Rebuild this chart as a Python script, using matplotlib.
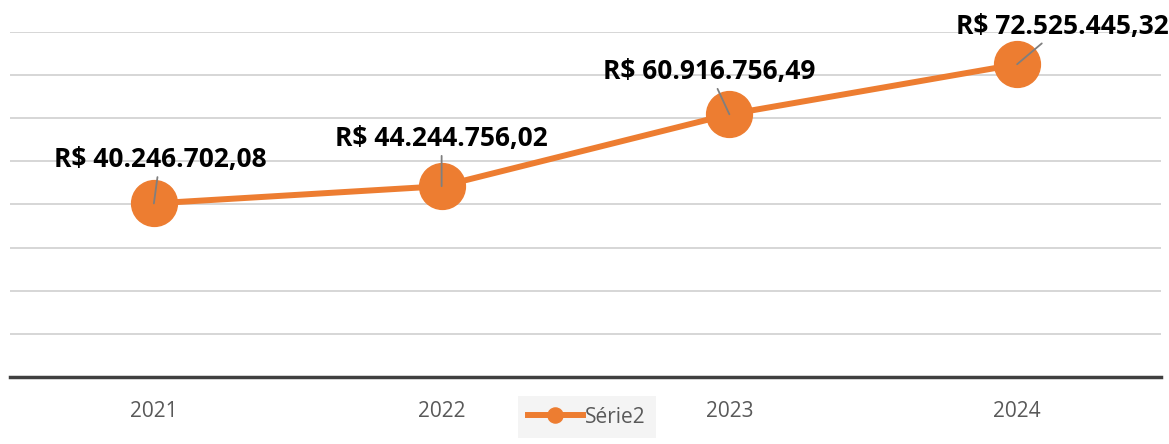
import matplotlib.pyplot as plt

# Dados
anos = ['2021', '2022', '2023', '2024']
valores = [40246702.08, 44244756.02, 60916756.49, 72525445.32]
rotulos = ['R$ 40.246.702,08', 'R$ 44.244.756,02', 'R$ 60.916.756,49', 'R$ 72.525.445,32']
deslocamentos = [(6, 44), (0, 48), (-20, 43), (45, 38)]  # em pixels

laranja = '#ED7D31'
plt.rcParams['font.family'] = ['Open Sans', 'DejaVu Sans']

fig = plt.figure(figsize=(11.69, 4.44), dpi=100)
ax = fig.add_axes([10 / 1169, 1 - 377 / 444, 1151 / 1169, (377 - 32) / 444])

x = range(len(anos))
ax.plot(x, valores, color=laranja, linewidth=4.3, marker='o', markersize=33,
        label='Série2', zorder=3)

for i, (v, txt) in enumerate(zip(valores, rotulos)):
    dx, dy = deslocamentos[i]
    ax.annotate(txt, xy=(i, v), xytext=(dx * 0.72, dy * 0.72), textcoords='offset points',
                ha='center', va='center', fontsize=19, fontweight='bold', color='black',
                arrowprops=dict(arrowstyle='-', color='#7f7f7f', lw=1.3, shrinkA=1, shrinkB=0),
                zorder=4, annotation_clip=False)

ax.set_xlim(-0.5, 3.5)
ax.set_ylim(0, 80e6)
ax.set_yticks([i * 10e6 for i in range(1, 9)])
ax.set_yticklabels([])
ax.tick_params(axis='y', length=0)
ax.grid(axis='y', color='#d0d0d0', linewidth=1.2)
ax.set_axisbelow(True)

ax.set_xticks(list(x))
ax.set_xticklabels(anos, fontsize=15, color='#595959')
ax.tick_params(axis='x', length=0, pad=17)

for s in ['top', 'left', 'right']:
    ax.spines[s].set_visible(False)
ax.spines['bottom'].set_color('#404040')
ax.spines['bottom'].set_linewidth(2.5)

leg = fig.legend(loc='lower center', bbox_to_anchor=(0.502, -0.01), frameon=True,
                 fontsize=15, markerscale=0.33, handlelength=2.6, borderpad=0.5,
                 handletextpad=0.1, fancybox=False)
leg.get_frame().set_facecolor('#f2f2f2')
leg.get_frame().set_edgecolor('none')
for t in leg.get_texts():
    t.set_color('#595959')

fig.savefig('out.png', dpi=100)
